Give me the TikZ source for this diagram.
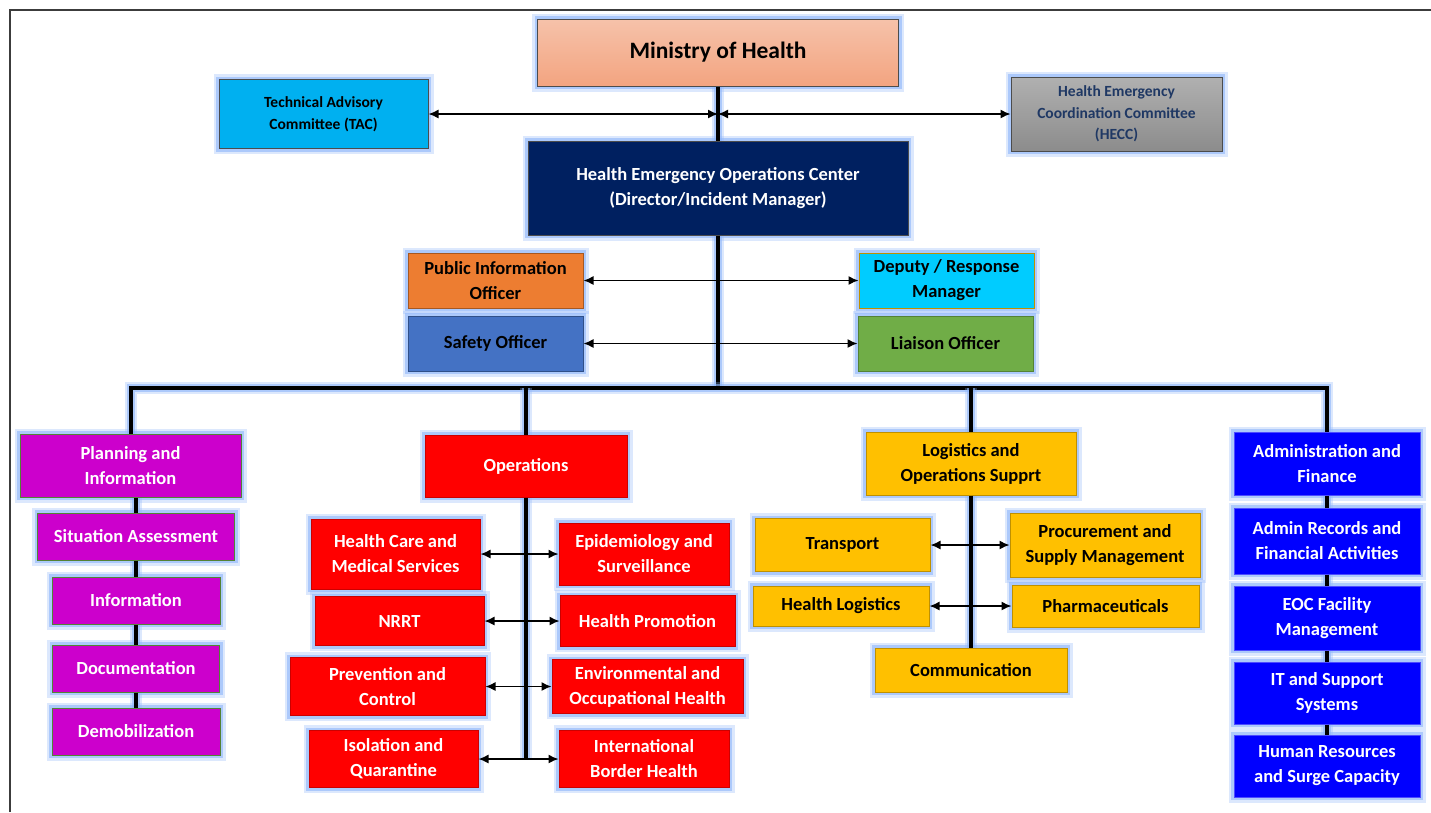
\documentclass[tikz,border=0pt]{standalone}
\usepackage{fontspec}
\setmainfont{Carlito}
\usetikzlibrary{arrows.meta}

\definecolor{glowblue}{RGB}{140,180,250}
\definecolor{framegray}{RGB}{60,60,60}
\definecolor{mohtop}{RGB}{246,194,170}
\definecolor{mohbot}{RGB}{243,164,128}
\definecolor{tacblue}{RGB}{0,176,240}
\definecolor{hecctop}{RGB}{176,176,176}
\definecolor{heccbot}{RGB}{140,140,140}
\definecolor{heccnavy}{RGB}{31,56,100}
\definecolor{heocnavy}{RGB}{0,32,96}
\definecolor{pioorange}{RGB}{237,125,49}
\definecolor{deputycyan}{RGB}{0,204,255}
\definecolor{safetyblue}{RGB}{68,114,196}
\definecolor{liaisongreen}{RGB}{112,173,71}
\definecolor{planpurple}{RGB}{204,0,204}
\definecolor{opsred}{RGB}{255,0,0}
\definecolor{logamber}{RGB}{255,192,0}
\definecolor{adminblue}{RGB}{0,0,255}
\definecolor{ambredge}{RGB}{191,144,0}
\definecolor{greenedge}{RGB}{84,130,53}

\begin{document}
\begin{tikzpicture}[x=1pt,y=1pt,yscale=-1,
  glow/.style={preaction={draw=glowblue,line width=11pt,draw opacity=0.3},
    preaction={draw=glowblue,line width=6pt,draw opacity=0.6}},
  orgbox/.style={glow,draw=black!70,line width=1pt,inner sep=0pt,align=center,
    font=\bfseries\fontsize{18.5}{25}\selectfont},
  smallbox/.style={orgbox,font=\bfseries\fontsize{15.5}{21.5}\selectfont},
  planbox/.style={orgbox,fill=planpurple,draw=greenedge,text=white},
  opsbox/.style={orgbox,fill=opsred,draw=opsred!80!black,text=white},
  logbox/.style={orgbox,fill=logamber,draw=ambredge,text=black},
  adminbox/.style={orgbox,fill=adminblue,draw=adminblue!70!white,text=white,
    minimum width=186},
  trunk/.style={line width=4pt,black,preaction={draw=glowblue,line width=12pt,draw opacity=0.3},
    preaction={draw=glowblue,line width=8pt,draw opacity=0.6}},
  link/.style={line width=1.4pt,black,{Latex[length=10pt,width=9pt]}-{Latex[length=10pt,width=9pt]}}]

\useasboundingbox (0,0) rectangle (1431,812);
% frame
\draw [framegray,line width=1.3pt] (10,812) -- (10,10) -- (1431,10);

% top level
\node [orgbox,top color=mohtop,bottom color=mohbot,draw=black!70,minimum width=361,minimum height=67,
  font=\bfseries\fontsize{23.5}{28}\selectfont] (moh) at (718,52.5) {Ministry of Health};
\node [smallbox,fill=tacblue,minimum width=209,minimum height=69] (tac) at (323.5,114) {Technical Advisory\\Committee (TAC)};
\node [smallbox,top color=hecctop,bottom color=heccbot,text=heccnavy,minimum width=211,minimum height=74] (hecc) at (1116.5,114) {Health Emergency\\Coordination Committee\\(HECC)};
\node [orgbox,fill=heocnavy,text=white,minimum width=380,minimum height=94] (heoc) at (718,188) {Health Emergency Operations Center\\(Director/Incident Manager)};

% command staff
\node [orgbox,fill=pioorange,draw=pioorange!70!black,minimum width=175,minimum height=55] (pio) at (495.5,280.5) {Public Information\\Officer};
\node [orgbox,fill=deputycyan,draw=ambredge,minimum width=175,minimum height=55] (deputy) at (946.5,280.5) {Deputy / Response\\Manager};
\node [orgbox,fill=safetyblue,draw=safetyblue!70!black,minimum width=175,minimum height=55] (safety) at (495.5,343.5) {Safety Officer};
\node [orgbox,fill=liaisongreen,draw=greenedge,minimum width=175,minimum height=55] (liaison) at (945.5,343.5) {Liaison Officer};

% planning and information
\node [planbox,minimum width=221,minimum height=63] (plan) at (130.5,465.5) {Planning and\\Information};
\node [planbox,minimum width=197,minimum height=47] (sitass) at (136,536.5) {Situation Assessment};
\node [planbox,minimum width=168,minimum height=47] (info) at (136,600.5) {Information};
\node [planbox,minimum width=167,minimum height=47] (docu) at (136,668.5) {Documentation};
\node [planbox,minimum width=168,minimum height=47] (demob) at (136,731.5) {Demobilization};

% operations
\node [opsbox,minimum width=202,minimum height=62] (ops) at (526,466) {Operations};
\node [opsbox,minimum width=169,minimum height=70] (hcms) at (395.5,554) {Health Care and\\Medical Services};
\node [opsbox,minimum width=170,minimum height=62] (epi) at (644,554) {Epidemiology and\\Surveillance};
\node [opsbox,minimum width=169,minimum height=49] (nrrt) at (399.5,621) {NRRT};
\node [opsbox,minimum width=175,minimum height=51] (hpromo) at (647.5,621) {Health Promotion};
\node [opsbox,minimum width=195,minimum height=58] (prev) at (387.5,686.5) {Prevention and\\Control};
\node [opsbox,minimum width=191,minimum height=54] (envocc) at (647.5,686.5) {Environmental and\\Occupational Health};
\node [opsbox,minimum width=169,minimum height=57] (isol) at (393.5,759) {Isolation and\\Quarantine};
\node [opsbox,minimum width=170,minimum height=57] (ibh) at (644,759) {International\\Border Health};

% logistics
\node [logbox,minimum width=210,minimum height=63] (logi) at (971,463.5) {Logistics and\\Operations Supprt};
\node [logbox,minimum width=175,minimum height=53] (transp) at (842.5,545) {Transport};
\node [logbox,minimum width=190,minimum height=64] (procure) at (1105,545) {Procurement and\\Supply Management};
\node [logbox,minimum width=176,minimum height=40] (hlog) at (841,606) {Health Logistics};
\node [logbox,minimum width=187,minimum height=42] (pharma) at (1105.5,606) {Pharmaceuticals};
\node [logbox,minimum width=192,minimum height=44] (comm) at (971,670) {Communication};

% administration and finance
\node [adminbox,minimum height=63] (admin) at (1327,463.5) {Administration and\\Finance};
\node [adminbox,minimum height=66] (records) at (1327,541) {Admin Records and\\Financial Activities};
\node [adminbox,minimum height=64] (facility) at (1327,618) {EOC Facility\\Management};
\node [adminbox,minimum height=62] (itsys) at (1327,693) {IT and Support\\Systems};
\node [adminbox,minimum height=62] (hr) at (1327,766) {Human Resources\\and Surge Capacity};

% connectors
\coordinate (hub) at (718,114);
\coordinate (bus) at (718,388);
\coordinate (opsend) at (526,759);

\draw [trunk] (moh) -- (heoc);
\draw [link] (tac) -- (hub);
\draw [link] (hub) -- (hecc);
\draw [trunk] (heoc) -- (bus);
\draw [link] (pio) -- (deputy);
\draw [link] (safety) -- (liaison);
\draw [trunk] (plan.north) |- (bus) -| (admin.north);
\draw [trunk] (ops.north) -- (ops.north |- bus);
\draw [trunk] (logi.north) -- (logi.north |- bus);

\draw [trunk] (sitass.north) -- (sitass.north |- plan.south);
\draw [trunk] (sitass) -- (info);
\draw [trunk] (info) -- (docu);
\draw [trunk] (docu) -- (demob);

\draw [trunk] (ops) -- (opsend);
\draw [link] (hcms) -- (epi);
\draw [link] (nrrt) -- (hpromo);
\draw [link] (prev) -- (envocc);
\draw [link] (isol) -- (ibh);

\draw [trunk] (logi) -- (comm);
\draw [link] (transp) -- (procure);
\draw [link] (hlog) -- (pharma);

\draw [trunk] (admin) -- (records);
\draw [trunk] (records) -- (facility);
\draw [trunk] (facility) -- (itsys);
\draw [trunk] (itsys) -- (hr);

\end{tikzpicture}
\end{document}
